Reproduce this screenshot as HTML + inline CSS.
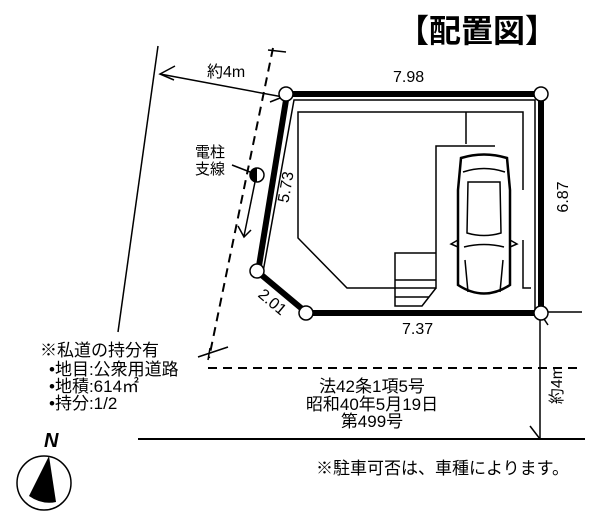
<!DOCTYPE html>
<html><head><meta charset="utf-8"><style>
html,body{margin:0;padding:0;background:#fff;}
svg{display:block;font-family:"Liberation Sans","Noto Sans CJK JP",sans-serif;}
</style></head><body>
<svg width="605" height="514" viewBox="0 0 605 514" xmlns="http://www.w3.org/2000/svg">
<rect width="605" height="514" fill="#fff"/>
<text x="477" y="42" font-size="32" font-weight="bold" text-anchor="middle" font-family="Noto Sans CJK JP,sans-serif">【配置図】</text>
<g stroke="#000" fill="none">
<line x1="158" y1="46" x2="118" y2="332" stroke-width="1.5"/>
<line x1="273" y1="48" x2="209" y2="358" stroke-width="2" stroke-dasharray="9,6"/>
<line x1="268" y1="50" x2="286" y2="52" stroke-width="1.5"/>
<line x1="198" y1="357" x2="228" y2="347" stroke-width="1.5"/>
<line x1="210" y1="348" x2="208" y2="360" stroke-width="1.5"/>
<line x1="208" y1="368" x2="582" y2="368" stroke-width="2" stroke-dasharray="9,6"/>
<line x1="138" y1="439" x2="585" y2="439" stroke-width="2"/>
<line x1="540" y1="313" x2="540" y2="439" stroke-width="1.5"/>
<line x1="530" y1="426" x2="540" y2="439" stroke-width="1.5"/>
<line x1="540" y1="313" x2="548" y2="325" stroke-width="1.5"/>
<line x1="541" y1="312" x2="582" y2="312" stroke-width="1.5"/>
<line x1="160" y1="74" x2="283" y2="97" stroke-width="1.5"/>
<polyline points="175,66 160,74 174,80" stroke-width="1.5"/>
<line x1="270" y1="102" x2="280" y2="98" stroke-width="1.5"/>
<polyline points="263,272 294,100 535,100 535,313" stroke-width="1.5"/>
<polyline points="523,190 523,112 298,112 298,238 347,288 436,288 436,146 495,146" stroke-width="1.5"/>
<line x1="466" y1="112" x2="466" y2="144" stroke-width="1.5"/>
<polyline points="523,240 523,288 531,288" stroke-width="1.5"/>
<polyline points="436,253 395,253 395,306 422,306 436,288" stroke-width="1.5"/>
<line x1="395" y1="280" x2="436" y2="280" stroke-width="1.5"/>
<line x1="395" y1="297" x2="429" y2="297" stroke-width="1.5"/>
<polyline points="287,94 541,94 541,313 307,313 258,272 287,94" stroke-width="6"/>
<path d="M461,158 Q484,151 507,158 L510,190 L510,285 Q484,302 458,285 L458,190 Z" stroke-width="2.5"/>
<path d="M463,172 Q484,165 505,172 M468,182 L500,182 L501,233 Q484,238 467,233 Z M464,247 Q484,242 504,247 M465,260 L468,292 M503,260 L500,292" stroke-width="1.5"/>
<path d="M458,240 L451,244 L458,247 M510,240 L517,244 L510,247" stroke-width="1.5"/>
<line x1="232" y1="165" x2="250" y2="172" stroke-width="1.5"/>
<line x1="255" y1="182" x2="244" y2="236" stroke-width="1.5"/>
<polyline points="238,226 244,237 251,230" stroke-width="1.5"/>
</g>
<circle cx="257" cy="175" r="7" fill="#fff" stroke="#000" stroke-width="1.5"/>
<path d="M257,168 A7,7 0 0 0 257,182 Z" fill="#000"/>
<g fill="#fff" stroke="#000" stroke-width="1.5">
<circle cx="286" cy="94" r="7"/><circle cx="541" cy="94" r="7"/><circle cx="541" cy="313" r="7"/><circle cx="306" cy="313" r="7"/><circle cx="257" cy="271" r="7"/>
</g>
<g font-size="16" fill="#000">
<text x="207" y="77">約4m</text>
<text x="393" y="82">7.98</text>
<text x="402" y="334">7.37</text>
<text transform="translate(568,197) rotate(-90)" text-anchor="middle">6.87</text>
<text transform="translate(291,188) rotate(-80)" text-anchor="middle">5.73</text>
<text transform="translate(269,306) rotate(40)" text-anchor="middle">2.01</text>
<text transform="translate(562,385) rotate(-90)" text-anchor="middle">約4m</text>
<text x="195" y="157" font-size="15">電柱</text>
<text x="195" y="174" font-size="15">支線</text>
<text x="40" y="356" font-size="17">※私道の持分有</text>
<text x="49" y="375" font-size="17">•地目:公衆用道路</text>
<text x="49" y="392" font-size="17">•地積:614㎡</text>
<text x="49" y="409" font-size="17">•持分:1/2</text>
<text x="372" y="392" text-anchor="middle" font-size="17">法42条1項5号</text>
<text x="372" y="410" text-anchor="middle" font-size="17">昭和40年5月19日</text>
<text x="372" y="427" text-anchor="middle" font-size="17">第499号</text>
<text x="316" y="474" font-size="17">※駐車可否は、車種によります。</text>
<text x="44" y="447" font-size="20" font-weight="bold" font-style="italic">N</text>
</g>
<circle cx="44" cy="483" r="27" fill="#fff" stroke="#000" stroke-width="1.5"/>
<path d="M49,456 L29,496 Q42,505 56,502 Z" fill="#000"/>
</svg>
</body></html>
